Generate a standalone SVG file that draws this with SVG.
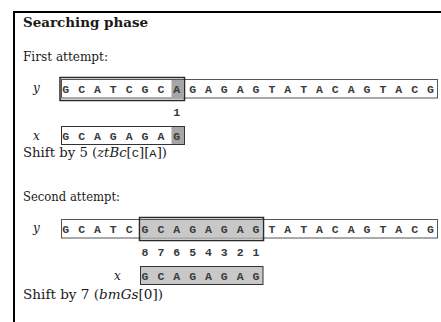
<svg xmlns="http://www.w3.org/2000/svg" width="441" height="322" viewBox="0 0 441 322">
<style>
.t{font-family:"DejaVu Serif","Liberation Serif",serif;font-size:12px;fill:#1a1a1a}
.b{font-weight:bold}
.i{font-style:italic}
.m{font-family:"Liberation Mono","DejaVu Sans Mono",monospace;font-size:11.5px;font-weight:bold;fill:#3a3a3a;text-anchor:middle}
.mi{font-family:"Liberation Mono","DejaVu Sans Mono",monospace;font-size:11px}
.row{fill:#fff;stroke:#555;stroke-width:1}
.win{fill:none;stroke:#2a2a2a;stroke-width:1.5}
.sh1{fill:#a6a6a6}
.sh2{fill:#c8c8c8}
</style>
<rect width="441" height="322" fill="#fff"/>
<g id="frame"><path d="M14 322V12H441" fill="none" stroke="#000" stroke-width="2"/></g>
<g id="texts">
<text class="t b" x="23" y="27" textLength="125" lengthAdjust="spacingAndGlyphs">Searching phase</text>
<text class="t" x="23" y="61" textLength="85" lengthAdjust="spacingAndGlyphs">First attempt:</text>
<text class="t" x="23" y="157" textLength="144" lengthAdjust="spacingAndGlyphs">Shift by 5 (<tspan class="i">ztBc</tspan>[<tspan class="mi">C</tspan>][<tspan class="mi">A</tspan>])</text>
<text class="t" x="23" y="201" textLength="97" lengthAdjust="spacingAndGlyphs">Second attempt:</text>
<text class="t" x="23" y="299" textLength="140" lengthAdjust="spacingAndGlyphs">Shift by 7 (<tspan class="i">bmGs</tspan>[0])</text>
</g>
<g id="attempt1">
<g id="y1">
<text class="t i" x="33" y="92">y</text>
<rect class="row" x="61.5" y="79.5" width="376" height="18.5"/>
<rect class="sh1" x="171.5" y="80" width="12" height="17.5"/>
<rect class="win" x="60" y="77.5" width="124.5" height="23"/>
<text class="m" y="92.5" x="65.7 81.6 97.4 113.3 129.1 145 160.9 176.7 192.6 208.4 224.3 240.2 256 271.9 287.7 303.6 319.5 335.3 351.2 367 382.9 398.8 414.6 430.5">GCATCGCAGAGAGTATACAGTACG</text>
</g>
<text class="m" x="176.7" y="116">1</text>
<g id="x1">
<text class="t i" x="33" y="140">x</text>
<rect class="row" x="61.5" y="126.5" width="123" height="18" stroke="#333"/>
<rect class="sh1" x="171.5" y="127" width="12.5" height="17"/>
<rect x="61.5" y="126.5" width="123" height="18" fill="none" stroke="#333"/>
<text class="m" y="139.5" x="65.7 81.6 97.4 113.3 129.1 145 160.9 176.7">GCAGAGAG</text>
</g>
</g>
<g id="attempt2">
<g id="y2">
<text class="t i" x="33" y="232">y</text>
<rect class="row" x="61.5" y="219.5" width="376" height="18.5"/>
<rect class="sh2" x="140.5" y="220" width="122" height="17.5"/>
<rect class="win" x="139.5" y="217.5" width="124" height="23"/>
<text class="m" y="232.5" x="65.7 81.6 97.4 113.3 129.1 145 160.9 176.7 192.6 208.4 224.3 240.2 256 271.9 287.7 303.6 319.5 335.3 351.2 367 382.9 398.8 414.6 430.5">GCATCGCAGAGAGTATACAGTACG</text>
</g>
<text class="m" y="256" x="145 160.9 176.7 192.6 208.4 224.3 240.2 256">87654321</text>
<g id="x2">
<text class="t i" x="114" y="280">x</text>
<rect class="sh2" x="140.5" y="266.5" width="122.5" height="18" stroke="#333"/>
<text class="m" y="279.5" x="145 160.9 176.7 192.6 208.4 224.3 240.2 256">GCAGAGAG</text>
</g>
</g>
</svg>
